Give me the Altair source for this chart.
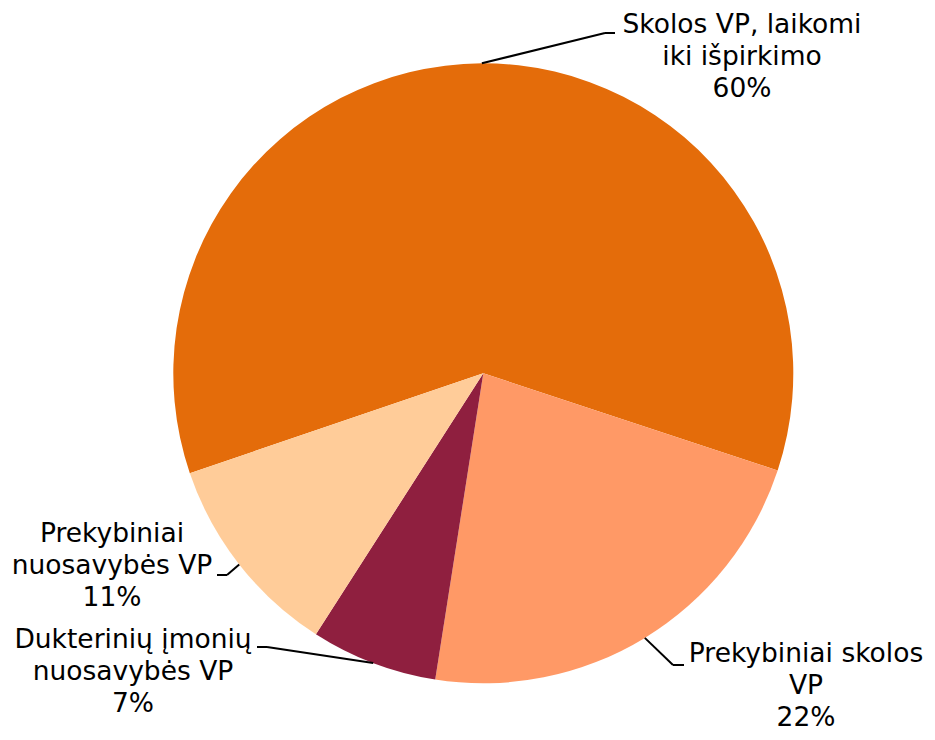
import math
import altair as alt
import pandas as pd

# ---- data ----
names = [
    "Skolos VP, laikomi\niki išpirkimo",
    "Prekybiniai skolos\nVP",
    "Dukterinių įmonių\nnuosavybės VP",
    "Prekybiniai\nnuosavybės VP",
]
values = [60.3, 22.4, 6.6, 10.7]
colors = ["#E46C0A", "#FF9966", "#8F1F3F", "#FFCC99"]

# ---- layout (page pixel coordinates) ----
W, H = 919, 724
CX, CY, R = 483.3, 373.3, 310
START = math.radians(251.2)
elbow_x = [605, 673, 267, 227]
elbow_y = [33, 665, 647, 575]
end_x = [615, 684, 257, 217]
end_y = [33, 665, 647, 575]
text_x = [742, 806, 133, 112]
text_y = [33, 662, 648, 542]

df = pd.DataFrame({
    "name": names,
    "value": values,
    "order": list(range(len(names))),
    "bx": elbow_x, "by": elbow_y,
    "ex2": end_x, "ey2": end_y,
    "tx": text_x, "ty": text_y,
})

xs = alt.Scale(domain=[8, 8 + W], range=[0, W])
ys = alt.Scale(domain=[8, 8 + H], range=[0, H])

base = alt.Chart(df)

pie = base.mark_arc(outerRadius=R, stroke=None).encode(
    theta=alt.Theta("value:Q", stack=True,
                    scale=alt.Scale(range=[START, START + 2 * math.pi])),
    order=alt.Order("order:Q"),
    color=alt.Color("name:N", scale=alt.Scale(domain=names, range=colors), legend=None),
    x=alt.value(CX - 8),
    y=alt.value(CY - 8),
)

calc = base.transform_joinaggregate(
    total="sum(value)"
).transform_window(
    cum="sum(value)", sort=[alt.SortField("order")], frame=[None, 0]
).transform_calculate(
    mid=f"{START} + 2*PI*(datum.cum - datum.value/2)/datum.total"
).transform_calculate(
    px=f"{CX} + {R}*sin(datum.mid)",
    py=f"{CY} - {R}*cos(datum.mid)",
    label="datum.name + '\\n' + format(datum.value/datum.total, '.0%')",
)

rule1 = calc.mark_rule(color="black", strokeWidth=2).encode(
    x=alt.X("px:Q", scale=xs, axis=None),
    y=alt.Y("py:Q", scale=ys, axis=None),
    x2="bx:Q",
    y2="by:Q",
)
rule2 = calc.mark_rule(color="black", strokeWidth=2).encode(
    x=alt.X("bx:Q", scale=xs, axis=None),
    y=alt.Y("by:Q", scale=ys, axis=None),
    x2="ex2:Q",
    y2="ey2:Q",
)
text = calc.mark_text(
    font="DejaVu Sans", fontSize=26.5, lineHeight=32, align="center",
    baseline="alphabetic", lineBreak="\n", color="black",
).encode(
    x=alt.X("tx:Q", scale=xs, axis=None),
    y=alt.Y("ty:Q", scale=ys, axis=None),
    text="label:N",
)

chart = alt.layer(pie, rule1, rule2, text).properties(
    width=W, height=H, padding=0, autosize=alt.AutoSizeParams(type="none"),
).configure_view(stroke=None)

chart.save("out.html", embed_options={"renderer": "svg", "actions": False})
